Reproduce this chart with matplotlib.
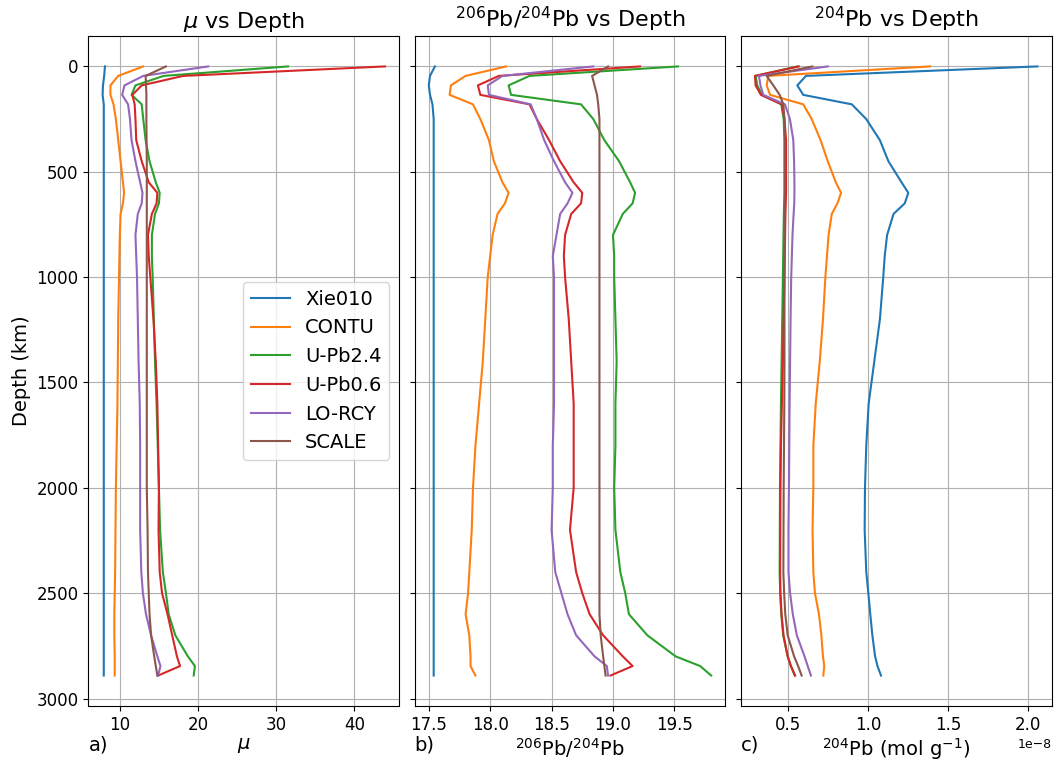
import matplotlib
matplotlib.use("Agg")
import matplotlib.pyplot as plt
import numpy as np

# depth grid (km)
depth = [0, 45, 90, 135, 180, 250, 350, 450, 550, 600, 650, 700, 800, 900,
         1000, 1200, 1400, 1600, 1800, 2000, 2200, 2400, 2500, 2600, 2700,
         2800, 2846, 2891]

models = ["Xie010", "CONTU", "U-Pb2.4", "U-Pb0.6", "LO-RCY", "SCALE"]

# mu (238U/204Pb)
mu_xie010 = [8.1, 8.0, 7.85, 7.8, 7.95, 7.95, 7.95, 7.95, 7.95, 7.95, 7.95, 7.95, 7.95, 7.95,
             7.95, 7.95, 7.95, 7.95, 7.95, 7.95, 7.95, 7.95, 7.95, 7.95, 7.95,
             7.95, 7.95, 7.95]
mu_contu = [12.98, 9.8, 8.8, 8.8, 9.2, 9.5, 9.8, 10.1, 10.4, 10.55, 10.4, 10.1, 10.0, 9.95,
            9.9, 9.8, 9.75, 9.7, 9.6, 9.5, 9.45, 9.4, 9.35, 9.3, 9.3,
            9.35, 9.35, 9.35]
mu_upb24 = [31.5, 15.6, 12.0, 11.5, 12.8, 13.0, 13.3, 13.8, 14.6, 15.1, 15.0, 14.5, 14.1, 14.1,
            14.2, 14.35, 14.5, 14.7, 14.85, 15.0, 15.15, 15.5, 15.9, 16.25, 17.1,
            18.7, 19.6, 19.45]
mu_upb06 = [43.9, 18.1, 12.8, 11.6, 11.9, 12.0, 12.1, 12.8, 13.7, 14.8, 14.7, 14.1, 13.6, 13.7,
            13.9, 14.3, 14.6, 14.8, 14.9, 15.0, 14.95, 15.1, 15.4, 16.1, 16.7,
            17.3, 17.7, 14.9]
mu_lorcy = [21.3, 13.0, 10.6, 10.3, 11.06, 11.3, 11.5, 12.0, 12.6, 12.9, 12.8, 12.3, 12.0, 12.1,
            12.2, 12.3, 12.4, 12.55, 12.6, 12.6, 12.6, 12.75, 12.95, 13.35, 14.0,
            14.8, 15.2, 14.9]
mu_scale = [15.9, 13.3, 13.35, 13.4, 13.4, 13.4, 13.42, 13.45, 13.45, 13.45, 13.45, 13.45, 13.45, 13.45,
            13.45, 13.45, 13.45, 13.45, 13.45, 13.45, 13.55, 13.6, 13.7, 13.8, 14.0,
            14.4, 14.6, 14.8]

# 206Pb/204Pb
r_xie010 = [17.55, 17.51, 17.50, 17.51, 17.53, 17.54, 17.54, 17.54, 17.54, 17.54, 17.54, 17.54, 17.54, 17.54,
            17.54, 17.54, 17.54, 17.54, 17.54, 17.54, 17.54, 17.54, 17.54, 17.54, 17.54,
            17.54, 17.54, 17.54]
r_contu = [18.13, 17.80, 17.68, 17.67, 17.86, 17.92, 17.99, 18.03, 18.10, 18.15, 18.12, 18.06, 18.02, 18.0,
           17.98, 17.96, 17.94, 17.91, 17.88, 17.86, 17.85, 17.83, 17.82, 17.80, 17.83,
           17.84, 17.84, 17.88]
r_upb24 = [19.53, 18.32, 18.15, 18.17, 18.74, 18.84, 18.93, 19.05, 19.14, 19.18, 19.16, 19.08, 19.0, 19.01,
           19.01, 19.02, 19.03, 19.02, 19.02, 19.01, 19.02, 19.06, 19.10, 19.13, 19.28,
           19.51, 19.71, 19.80]
r_upb06 = [19.22, 18.07, 17.90, 17.92, 18.32, 18.38, 18.48, 18.57, 18.68, 18.75, 18.74, 18.66, 18.61, 18.60,
           18.61, 18.64, 18.66, 18.68, 18.68, 18.68, 18.65, 18.70, 18.75, 18.81, 18.92,
           19.08, 19.16, 18.98]
r_lorcy = [18.84, 18.10, 17.98, 17.99, 18.33, 18.38, 18.44, 18.52, 18.61, 18.67, 18.63, 18.57, 18.54, 18.51,
           18.52, 18.52, 18.52, 18.52, 18.51, 18.51, 18.50, 18.53, 18.58, 18.63, 18.70,
           18.85, 18.95, 18.96]
r_scale = [18.96, 18.83, 18.85, 18.87, 18.88, 18.89, 18.89, 18.89, 18.89, 18.89, 18.89, 18.89, 18.89, 18.89,
           18.89, 18.89, 18.89, 18.89, 18.89, 18.89, 18.89, 18.89, 18.89, 18.89, 18.90,
           18.92, 18.93, 18.94]

# 204Pb concentration (1e-8 mol/g)
c_xie010 = [2.057, 0.614, 0.56, 0.597, 0.90, 0.99, 1.075, 1.128, 1.21, 1.252, 1.23, 1.16, 1.12, 1.105,
            1.096, 1.075, 1.04, 1.005, 0.99, 0.982, 0.98, 0.99, 1.003, 1.015, 1.028,
            1.045, 1.06, 1.082]
c_contu = [1.388, 0.379, 0.369, 0.39, 0.597, 0.65, 0.705, 0.75, 0.80, 0.833, 0.81, 0.775, 0.755, 0.745,
           0.735, 0.72, 0.70, 0.675, 0.66, 0.66, 0.655, 0.66, 0.67, 0.695, 0.71,
           0.72, 0.728, 0.722]
c_upb24 = [0.56, 0.30, 0.31, 0.34, 0.46, 0.475, 0.48, 0.48, 0.48, 0.48, 0.478, 0.476, 0.474, 0.472,
           0.47, 0.466, 0.462, 0.458, 0.455, 0.452, 0.451, 0.45, 0.453, 0.46, 0.472,
           0.50, 0.52, 0.545]
c_upb06 = [0.57, 0.296, 0.30, 0.333, 0.463, 0.48, 0.49, 0.49, 0.49, 0.49, 0.488, 0.486, 0.484, 0.482,
           0.48, 0.475, 0.47, 0.464, 0.458, 0.455, 0.454, 0.453, 0.455, 0.462, 0.474,
           0.50, 0.52, 0.546]
c_lorcy = [0.75, 0.321, 0.33, 0.348, 0.483, 0.514, 0.535, 0.54, 0.542, 0.542, 0.541, 0.537, 0.53, 0.526,
           0.522, 0.518, 0.515, 0.512, 0.51, 0.508, 0.505, 0.505, 0.515, 0.532, 0.557,
           0.605, 0.625, 0.645]
c_scale = [0.654, 0.369, 0.41, 0.45, 0.473, 0.48, 0.482, 0.482, 0.482, 0.482, 0.482, 0.481, 0.48, 0.48,
           0.48, 0.48, 0.48, 0.479, 0.477, 0.475, 0.474, 0.473, 0.478, 0.485, 0.50,
           0.54, 0.565, 0.587]

mu_data = [mu_xie010, mu_contu, mu_upb24, mu_upb06, mu_lorcy, mu_scale]
ratio_data = [r_xie010, r_contu, r_upb24, r_upb06, r_lorcy, r_scale]
conc_data = [c_xie010, c_contu, c_upb24, c_upb06, c_lorcy, c_scale]

fig, axes = plt.subplots(1, 3, figsize=(10.57, 7.62), dpi=100, sharey=True)
fig.subplots_adjust(left=0.0837, right=0.9948, top=0.9528, bottom=0.0735, wspace=0.05)

for name, mu, r, c in zip(models, mu_data, ratio_data, conc_data):
    axes[0].plot(mu, depth, label=name, lw=1.5)
    axes[1].plot(r, depth, label=name, lw=1.5)
    axes[2].plot(np.array(c) * 1e-8, depth, label=name, lw=1.5)

titles = [r"$\mu$ vs Depth", r"$^{206}$Pb/$^{204}$Pb vs Depth", r"$^{204}$Pb vs Depth"]
xlabels = [r"$\mu$", r"$^{206}$Pb/$^{204}$Pb", r"$^{204}$Pb (mol g$^{-1}$)"]
letters = ["a)", "b)", "c)"]

for ax, t, xl, lt in zip(axes, titles, xlabels, letters):
    ax.set_title(t, fontsize=16)
    ax.set_xlabel(xl, fontsize=14, labelpad=2)
    ax.grid(True)
    ax.tick_params(labelsize=12)
    ax.text(0.0, -0.058, lt, transform=ax.transAxes, fontsize=14, ha="left", va="center")

axes[2].xaxis.get_offset_text().set_fontsize(9)
axes[0].invert_yaxis()
axes[0].set_ylabel("Depth (km)", fontsize=14)
axes[0].legend(loc="center right", fontsize=14)

fig.savefig("out.png")
